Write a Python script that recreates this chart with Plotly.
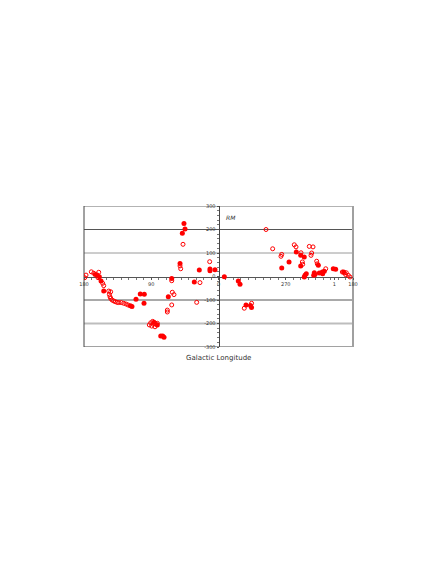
import plotly.graph_objects as go

# Galactic longitude (deg) and rotation measure (rad/m^2)
open_l = [179.1, 177.3, 170.2, 167.0, 160.3, 161.3, 155.0, 153.6, 146.9, 144.3,
          146.1, 145.2, 144.3, 142.5, 140.3, 138.1, 135.8, 133.6, 130.1, 126.9,
          123.8, 121.1, 62.6, 24.8, 61.8, 59.6, 62.6, 68.5, 68.5, 29.2,
          90.7, 88.1, 84.0, 92.6, 89.4, 85.0, 81.9, 87.3, 47.5, 50.6,
          51.5, 11.8, 296.4, 287.5, 275.4, 276.4, 258.6, 256.3, 249.6, 247.8,
          247.3, 238.5, 233.5, 235.3, 236.2, 228.6, 227.8, 216.5, 194.3, 191.6,
          189.0, 189.8, 186.3, 184.0, 315.7, 325.5]
open_rm = [-5, 6, 20, 14, 18, -5, -29, -39, -62, -65,
           -76, -86, -93, -100, -104, -107, -110, -111, -111, -114,
           -117, -121, -18, -26, -67, -77, -121, -143, -151, -110,
           -197, -191, -202, -206, -211, -214, -199, -203, 137, 33,
           45, 63, 200, 118, 94, 86, 135, 126, 101, 62,
           52, 128, 126, 100, 90, 65, 54, 33, 19, 16,
           16, 8, 5, -2, -114, -135]

filled_l = [164.9, 162.6, 159.5, 157.2, 153.6, 118.0, 115.8, 110.4, 104.7, 99.3,
            99.7, 67.2, 86.3, 81.9, 77.3, 74.7, 72.9, 32.4, 62.6, 46.2,
            44.8, 48.4, 51.5, 25.7, 11.4, 11.4, 4.7, 352.2, 333.5, 331.2,
            323.2, 317.2, 315.8, 275.4, 265.6, 255.9, 250.0, 245.2, 250.0, 244.2,
            242.5, 245.2, 231.8, 230.8, 232.6, 226.4, 225.1, 221.1, 218.4, 220.6,
            206.4, 203.2, 192.6]
filled_rm = [9, 6, -1, -19, -62, -124, -128, -97, -74, -76,
             -114, -86, -195, -206, -253, -253, -259, -23, -8, 226,
             202, 184, 55, 28, 32, 25, 29, -1, -19, -33,
             -121, -123, -132, 36, 62, 104, 90, 83, 45, 5,
             12, -2, 16, 9, 5, 48, 15, 19, 22, 12,
             33, 31, 19]

x_tick_lon = [180, 90, 0, 270, 205, 180]
x_tick_text = ["180", "90", "0", "270", "1", "180"]
y_ticks = [300, 200, 100, 0, -100, -200, -300]


def to_x(lons):
    return [(180 - l) % 360 for l in lons]


x_tick_vals = [0, 90, 180, 270, (180 - 205) % 360, 360]

fig = go.Figure()
fig.add_trace(go.Scatter(
    x=to_x(open_l), y=open_rm, mode="markers",
    marker=dict(symbol="circle-open", size=4, color="#ff0000", line=dict(width=1, color="#ff0000")),
    showlegend=False, hoverinfo="skip"))
fig.add_trace(go.Scatter(
    x=to_x(filled_l), y=filled_rm, mode="markers",
    marker=dict(symbol="circle", size=5, color="#ff0000", line=dict(width=0)),
    showlegend=False, hoverinfo="skip"))

font_family = "DejaVu Sans, Verdana, sans-serif"

fig.update_layout(
    width=436, height=564,
    margin=dict(l=76, r=91, t=198, b=225),
    paper_bgcolor="white", plot_bgcolor="white",
    font=dict(family=font_family, color="#333333"),
    xaxis=dict(range=[0, 360], anchor="free", position=0.5,
               tickvals=x_tick_vals, ticktext=x_tick_text,
               tickfont=dict(size=5, color="#333"),
               ticks="outside", ticklen=2, tickcolor="#555",
               minor=dict(dtick=10, tick0=0, ticks="outside", ticklen=2, tickcolor="#777"),
               showline=True, linecolor="#555", linewidth=1,
               showgrid=False, zeroline=False, layer="below traces"),
    yaxis=dict(range=[-300, 300], anchor="free", position=0.5, side="left",
               tickvals=y_ticks, ticktext=[str(v) for v in y_ticks],
               tickfont=dict(size=5, color="#333"),
               ticks="outside", ticklen=2, tickcolor="#555",
               minor=dict(dtick=20, tick0=0, ticks="outside", ticklen=2, tickcolor="#777"),
               showline=True, linecolor="#444", linewidth=1,
               showgrid=False, zeroline=False, layer="below traces"),
)

grid = [(300, "#9a9a9a", 1.5), (200, "#555555", 1), (100, "#9a9a9a", 1),
        (-100, "#555555", 1), (-200, "#bdbdbd", 2), (-300, "#444444", 1)]
for yv, col, w in grid:
    fig.add_shape(type="line", xref="paper", yref="y", x0=0, x1=1, y0=yv, y1=yv,
                  line=dict(color=col, width=w), layer="below")
fig.add_shape(type="line", xref="paper", yref="paper", x0=0, x1=0, y0=0, y1=1,
              line=dict(color="#444444", width=1), layer="below")
fig.add_shape(type="line", xref="paper", yref="paper", x0=1, x1=1, y0=0, y1=1,
              line=dict(color="#a0a0a0", width=2), layer="below")

fig.add_annotation(text="<i>RM</i>", xref="paper", yref="paper", x=0.52, y=0.915,
                   xanchor="left", yanchor="middle", showarrow=False,
                   font=dict(size=6, color="#333", family=font_family))
fig.add_annotation(text="Galactic Longitude", xref="paper", yref="paper", x=0.5, y=-0.035,
                   xanchor="center", yanchor="top", showarrow=False,
                   font=dict(size=7, color="#333", family=font_family))

fig.write_html("out.html")
